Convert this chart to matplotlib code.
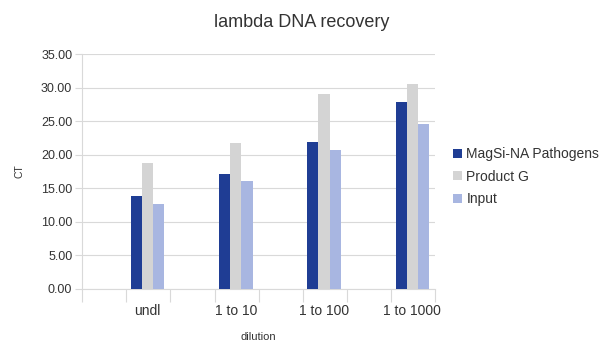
import numpy as np
import matplotlib
matplotlib.use("Agg")
import matplotlib.pyplot as plt

plt.rcParams['font.family'] = ['Liberation Sans', 'DejaVu Sans']

categories = ['undl', '1 to 10', '1 to 100', '1 to 1000']
series_names = ['MagSi-NA Pathogens', 'Product G', 'Input']
magsi = [13.8, 17.2, 21.9, 27.8]
product_g = [18.7, 21.7, 29.1, 30.6]
input_ct = [12.7, 16.1, 20.7, 24.6]
y_ticks = [0, 5, 10, 15, 20, 25, 30, 35]

colors = ['#1f3d94', '#d4d4d4', '#a8b6e1']
text_col = '#333333'
grid_col = '#d9d9d9'

fig = plt.figure(figsize=(6.03, 3.41), dpi=100)
ax = fig.add_axes([0.136, 0.1525, 0.586, 0.689])

x = np.arange(len(categories))
w = 0.127
for i, (vals, name) in enumerate(zip([magsi, product_g, input_ct], series_names)):
    ax.bar(x + (i - 1) * w, vals, width=w, color=colors[i], label=name, zorder=3)

ax.set_ylim(0, 35)
ax.set_xlim(-0.74, 3.26)
ax.set_yticks(y_ticks)
ax.set_yticklabels(['%.2f' % v for v in y_ticks])
ax.yaxis.grid(True, color=grid_col, lw=0.8, zorder=0)

ax.set_xticks(x)
ax.set_xticklabels(categories)
ax.set_xticks(np.arange(-0.74, 3.3, 0.5), minor=True)
ax.tick_params(axis='x', which='major', length=0, pad=11, labelsize=10, labelcolor=text_col)
ax.tick_params(axis='x', which='minor', length=9, color=grid_col, width=0.8)
ax.tick_params(axis='y', length=5, color=grid_col, width=0.8, labelsize=9, labelcolor=text_col, pad=2)

for s in ['top', 'right']:
    ax.spines[s].set_visible(False)
ax.spines['left'].set_color(grid_col)
ax.spines['bottom'].set_color(grid_col)
ax.spines['left'].set_linewidth(0.8)
ax.spines['bottom'].set_linewidth(0.8)

ax.set_ylabel('CT', fontsize=7.5, color=text_col, labelpad=12)
ax.set_xlabel('dilution', fontsize=8, color=text_col, labelpad=10)
fig.text(0.5, 0.935, 'lambda DNA recovery', ha='center', va='center',
         fontsize=13, color=text_col)

leg = ax.legend(loc='center left', bbox_to_anchor=(1.035, 0.478), frameon=False,
                fontsize=10, handlelength=0.65, handleheight=0.65, handletextpad=0.3,
                labelspacing=0.6, borderaxespad=0)
for t in leg.get_texts():
    t.set_color(text_col)

fig.savefig('out.png', dpi=100)
